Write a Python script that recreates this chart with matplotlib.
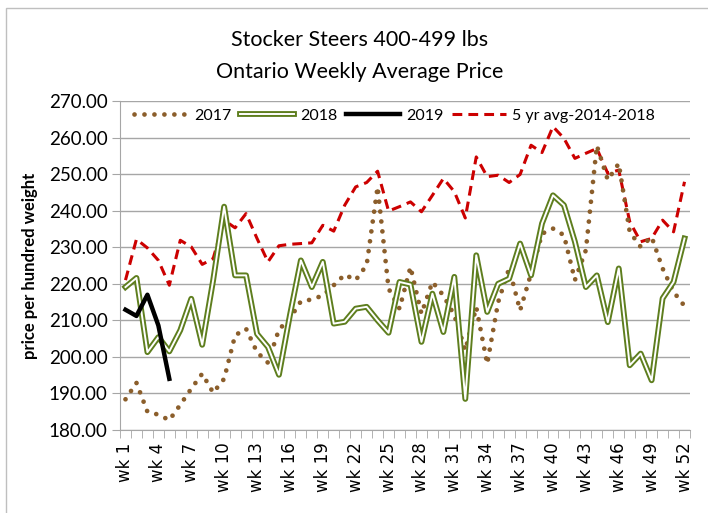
import numpy as np
import matplotlib
matplotlib.use('Agg')
import matplotlib.pyplot as plt
from matplotlib.patches import Rectangle
from matplotlib.ticker import FixedLocator, FuncFormatter

plt.rcParams['font.family'] = ['Lato', 'DejaVu Sans']

weeks = ['wk %d' % i for i in range(1, 53)]

# 2017 weekly average price
y2017 = [188.4, 192.9, 185.0, 184.2, 182.7, 186.9, 191.3, 195.4, 190.2, 194.0,
         205.9, 207.7, 201.3, 198.4, 207.5, 210.5, 215.2, 215.7, 216.8, 219.6,
         222.5, 221.0, 225.1, 246.5, 218.7, 213.2, 224.6, 211.8, 220.5, 216.8,
         211.4, 201.8, 213.6, 198.1, 215.0, 224.2, 212.7, 222.8, 233.7, 235.1,
         233.3, 221.0, 229.2, 257.8, 248.4, 252.9, 234.2, 230.1, 232.8, 224.2,
         217.8, 213.9]

y2018 = [219.1, 221.6, 201.3, 205.4, 201.5, 207.3, 215.9, 203.3, 221.0, 241.1,
         222.3, 222.3, 206.3, 202.7, 195.1, 211.4, 226.4, 219.1, 226.0, 209.1,
         209.6, 213.2, 213.7, 210.0, 206.6, 220.5, 219.8, 204.1, 217.3, 206.8,
         221.9, 188.5, 227.8, 212.3, 220.0, 221.4, 231.0, 222.3, 236.5, 244.2,
         241.5, 231.5, 219.1, 222.3, 209.5, 224.2, 197.7, 200.9, 193.6, 216.0,
         220.5, 232.4]

y2019 = [212.9, 211.2, 217.0, 208.6, 194.0]

avg5 = [221.0, 232.2, 229.8, 226.4, 219.6, 231.9, 230.1, 225.3, 226.9, 237.4,
        235.3, 239.2, 232.4, 226.0, 230.4, 230.8, 231.0, 231.2, 236.0, 234.4,
        241.5, 246.5, 247.7, 250.8, 239.9, 241.1, 242.4, 239.7, 244.2, 248.8,
        245.2, 238.0, 254.7, 249.3, 249.7, 247.7, 249.9, 257.9, 255.9, 263.0,
        259.8, 254.3, 255.7, 257.0, 250.2, 251.1, 237.0, 231.5, 232.4, 237.4,
        234.2, 247.9]

W, H = 708, 513
fig = plt.figure(figsize=(W / 100, H / 100), dpi=100)
fig.patches.append(Rectangle((6 / W, -0.05), 1.1, 1 - 8 / H + 0.05, transform=fig.transFigure,
                             fill=False, edgecolor='#bfbfbf', lw=1))

ax = fig.add_axes([120 / W, 1 - 430 / H, 570 / W, 329 / H])
x = np.arange(52)

h2017, = ax.plot(x, y2017, color='#8B5E2B', lw=3.4, linestyle=(0, (0.01, 2.1)),
                 dash_capstyle='round', zorder=3)
g1, = ax.plot(x, y2018, color='#5E7E1E', lw=4.2, zorder=4)
g2, = ax.plot(x, y2018, color='white', lw=1.4, zorder=4)
k, = ax.plot(np.arange(len(y2019)), y2019, color='black', lw=3.2, zorder=5)
r, = ax.plot(x, avg5, color='#CC0000', lw=2.2, linestyle=(0, (3.2, 2.0)), zorder=2)

ax.set_xlim(-0.5, 51.5)
ax.set_ylim(180, 270)
ax.set_yticks(np.arange(180, 271, 10))
ax.yaxis.set_major_formatter(FuncFormatter(lambda v, p: '%.2f' % v))
ax.grid(axis='y', color='#a6a6a6', lw=1)
ax.set_axisbelow(True)

ax.set_xticks(x[::3])
ax.set_xticklabels(weeks[::3], rotation=90, family='DejaVu Sans', fontsize=12)
ax.xaxis.set_minor_locator(FixedLocator(np.arange(-0.5, 52, 1)))
ax.tick_params(axis='x', which='major', length=0, pad=9)
ax.tick_params(axis='x', which='minor', length=6, color='#a6a6a6')
ax.tick_params(axis='y', length=6, color='#a6a6a6', labelsize=13.5, pad=3)

for s in ['top', 'right']:
    ax.spines[s].set_visible(False)
for s in ['left', 'bottom']:
    ax.spines[s].set_color('#a6a6a6')

ax.set_ylabel('price per hundred weight', fontsize=12, fontweight='bold', labelpad=8)

fig.text(0.508, 1 - 40 / H, 'Stocker Steers 400-499 lbs', ha='center', va='center', fontsize=15.5)
fig.text(0.508, 1 - 72 / H, 'Ontario Weekly Average Price', ha='center', va='center', fontsize=15.5)

ax.legend([h2017, (g1, g2), k, r], ['2017', '2018', '2019', '5 yr avg-2014-2018'],
          loc='center left', bbox_to_anchor=(0.025, 0.955), ncol=4, frameon=False,
          fontsize=11.5, handlelength=3.4, handletextpad=0.35, columnspacing=0.55,
          borderaxespad=0, borderpad=0)

fig.savefig('out.png', dpi=100)
